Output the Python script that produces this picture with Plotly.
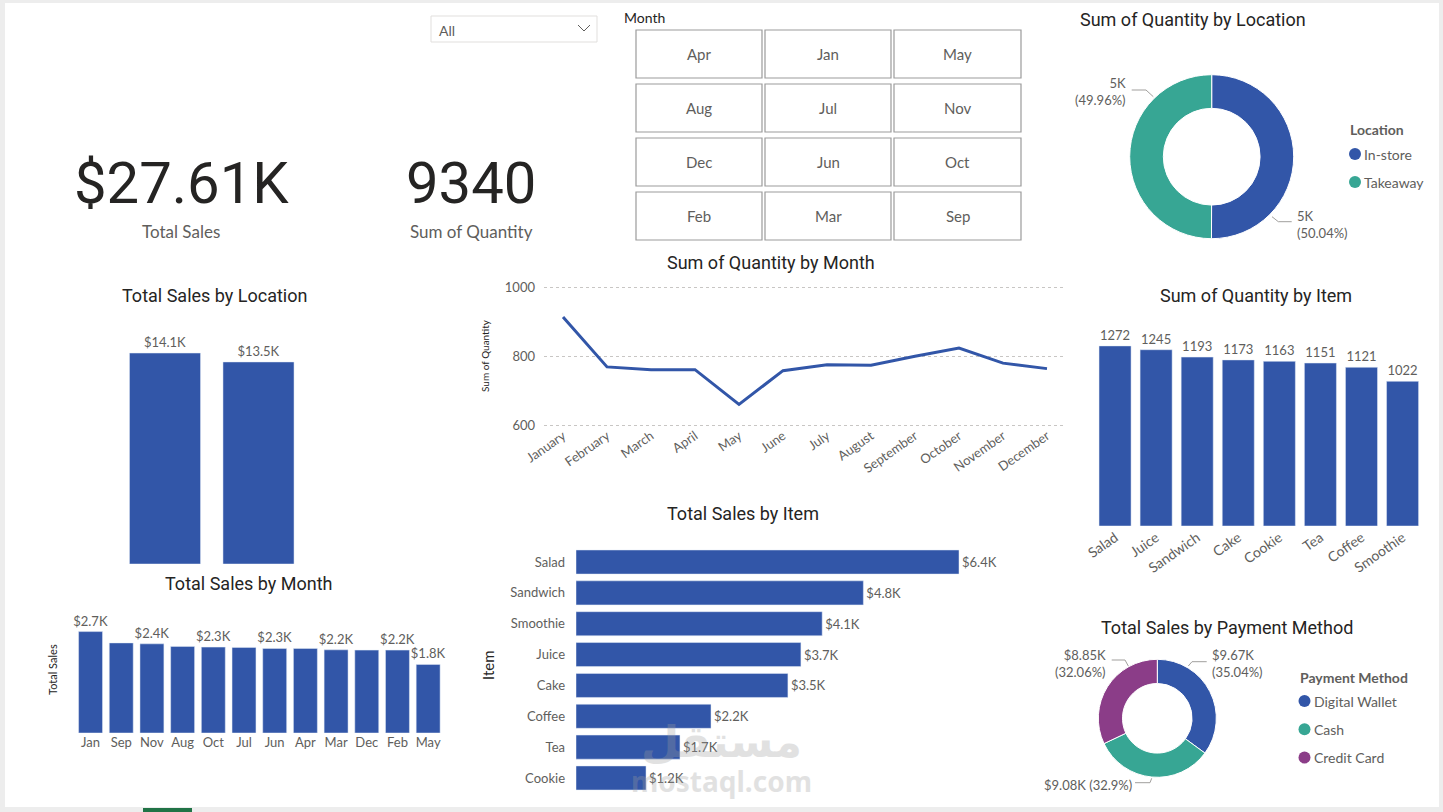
import plotly.graph_objects as go

W, H = 1443, 812

# ---------------- data ----------------
loc_names = ["In-store", "Takeaway"]
loc_sales = [14100, 13505.5]
loc_qty = [4674, 4666]

month_sales_cats = ["Jan", "Sep", "Nov", "Aug", "Oct", "Jul", "Jun", "Apr", "Mar", "Dec", "Feb", "May"]
month_sales = [2730, 2425, 2400, 2331, 2312, 2304, 2277, 2277, 2239, 2231, 2231, 1847]

month_full = ["January", "February", "March", "April", "May", "June", "July",
              "August", "September", "October", "November", "December"]
month_qty = [914, 769, 761, 761, 660, 758, 775, 774, 800, 824, 780, 764]

item_sales_cats = ["Salad", "Sandwich", "Smoothie", "Juice", "Cake", "Coffee", "Tea", "Cookie"]
item_sales = [6360, 4772, 4088, 3735, 3519, 2242, 1726.5, 1163]

item_qty_cats = ["Salad", "Juice", "Sandwich", "Cake", "Cookie", "Tea", "Coffee", "Smoothie"]
item_qty = [1272, 1245, 1193, 1173, 1163, 1151, 1121, 1022]

pay_methods = ["Digital Wallet", "Cash", "Credit Card"]
pay_sales = [9673, 9082, 8850]

slicer_months = [["Apr", "Jan", "May"], ["Aug", "Jul", "Nov"],
                 ["Dec", "Jun", "Oct"], ["Feb", "Mar", "Sep"]]

qty_ticks = [600, 800, 1000]

# ---------------- style ----------------
BLUE = "#3256A8"
TEAL = "#37A694"
PURPLE = "#8B3D88"
DARK = "#252423"
GRAY = "#605E5C"
TITLE_FONT = "DIN, Roboto, sans-serif"
LABEL_FONT = "Segoe UI, Lato, sans-serif"


def xd(a, b):
    return [a / W, b / W]


def yd(top, bottom):
    return [1 - bottom / H, 1 - top / H]


annotations = []
shapes = []


def ann(x, y, text, size=12, color=GRAY, family=LABEL_FONT, xanchor="center",
        yanchor="middle", angle=0, align="center", opacity=1.0):
    annotations.append(dict(x=x / W, y=1 - y / H, xref="paper", yref="paper",
                            text=text, showarrow=False, xanchor=xanchor, yanchor=yanchor,
                            textangle=angle, align=align, opacity=opacity,
                            font=dict(size=size, color=color, family=family)))


def line_path(points, color="#A19F9D", width=1):
    d = "M " + " L ".join(f"{x / W},{1 - y / H}" for x, y in points)
    shapes.append(dict(type="path", path=d, xref="paper", yref="paper",
                       line=dict(color=color, width=width)))


def rect(x0, y0, x1, y1, line_color=None, fill=None, width=1, layer="below"):
    shapes.append(dict(type="rect", xref="paper", yref="paper",
                       x0=x0 / W, x1=x1 / W, y0=1 - y1 / H, y1=1 - y0 / H,
                       line=dict(color=line_color or "rgba(0,0,0,0)", width=width),
                       fillcolor=fill or "rgba(0,0,0,0)", layer=layer))


def dot(cx, cy, r, color):
    shapes.append(dict(type="circle", xref="paper", yref="paper",
                       x0=(cx - r) / W, x1=(cx + r) / W, y0=1 - (cy + r) / H, y1=1 - (cy - r) / H,
                       line=dict(width=0), fillcolor=color))


fig = go.Figure()

# page frame
rect(0, 0, W, H, fill="#EDEDED")
rect(5, 3, 1439, 807, fill="#FFFFFF")
rect(143, 808, 192, 812, fill="#217346")

# ---------------- KPI cards ----------------
total_sales = sum(item_sales)
total_qty = sum(item_qty)
ann(182, 183, f"${total_sales / 1000:.2f}K", size=58, color=DARK, family=TITLE_FONT)
ann(181, 231, "Total Sales", size=17, color=GRAY)
ann(471, 183, f"{total_qty}", size=58, color=DARK, family=TITLE_FONT)
ann(471, 231, "Sum of Quantity", size=17, color=GRAY)

# dropdown slicer
rect(431, 16, 597, 42, line_color="#E1DFDD")
ann(437, 30, "All", size=14, color=GRAY, xanchor="left")
line_path([(578, 25), (584, 31), (590, 25)], color=GRAY, width=1)

# month tile slicer
ann(622, 17, "Month", size=14, color=DARK, xanchor="left")
cols = [(636, 762), (765, 891), (894, 1021)]
rows = [(30, 78), (84, 132), (138, 186), (192, 240)]
for ri, (t, b) in enumerate(rows):
    for ci, (l, r) in enumerate(cols):
        rect(l, t, r, b, line_color="#9B9B9B", width=1.2, layer="above")
        ann((l + r) / 2, (t + b) / 2, slicer_months[ri][ci], size=15, color=GRAY)

bar_common = dict(textposition="outside", constraintext="none", cliponaxis=False,
                  hoverinfo="skip", marker_color=BLUE)

# ---------------- Total Sales by Location ----------------
ann(214, 295, "Total Sales by Location", size=18, color=DARK, family=TITLE_FONT)
fig.add_trace(go.Bar(x=loc_names, y=loc_sales, width=0.76,
                     text=[f"${v / 1000:.1f}K" for v in loc_sales],
                     textfont=dict(size=13, color=GRAY, family=LABEL_FONT),
                     xaxis="x", yaxis="y", **bar_common))

# ---------------- Total Sales by Month ----------------
ann(249, 583, "Total Sales by Month", size=18, color=DARK, family=TITLE_FONT)
ann(52, 670, "Total Sales", size=11, color=DARK, angle=-90)
month_labels = [f"${v / 1000:.1f}K" if (i % 2 == 0 or i == len(month_sales) - 1) else ""
                for i, v in enumerate(month_sales)]
fig.add_trace(go.Bar(x=month_sales_cats, y=month_sales, width=0.78,
                     text=month_labels,
                     textfont=dict(size=13, color=GRAY, family=LABEL_FONT),
                     xaxis="x2", yaxis="y2", **bar_common))

# ---------------- Sum of Quantity by Month ----------------
ann(771, 262, "Sum of Quantity by Month", size=18, color=DARK, family=TITLE_FONT)
ann(485, 356, "Sum of Quantity", size=10, color=DARK, angle=-90)
fig.add_trace(go.Scatter(x=month_full, y=month_qty, mode="lines",
                         line=dict(color=BLUE, width=3), xaxis="x3", yaxis="y3",
                         hoverinfo="skip", cliponaxis=False))

# ---------------- Total Sales by Item ----------------
ann(743, 513, "Total Sales by Item", size=18, color=DARK, family=TITLE_FONT)
ann(488, 665, "Item", size=15, color=DARK, angle=-90)
fig.add_trace(go.Bar(y=item_sales_cats, x=item_sales, orientation="h", width=0.78,
                     text=[f"${v / 1000:.1f}K" for v in item_sales],
                     textfont=dict(size=13, color=GRAY, family=LABEL_FONT),
                     xaxis="x4", yaxis="y4", **bar_common))

# ---------------- Sum of Quantity by Item ----------------
ann(1256, 295, "Sum of Quantity by Item", size=18, color=DARK, family=TITLE_FONT)
fig.add_trace(go.Bar(x=item_qty_cats, y=item_qty, width=0.78,
                     text=[str(v) for v in item_qty],
                     textfont=dict(size=13, color=GRAY, family=LABEL_FONT),
                     xaxis="x5", yaxis="y5", **bar_common))

# ---------------- Sum of Quantity by Location (donut) ----------------
ann(1193, 20, "Sum of Quantity by Location", size=18, color=DARK, family=TITLE_FONT)
cx, cy, r = 1211.7, 156.7, 82
fig.add_trace(go.Pie(labels=loc_names, values=loc_qty, hole=0.59, sort=False,
                     direction="clockwise", rotation=0, textinfo="none", automargin=False,
                     marker=dict(colors=[BLUE, TEAL], line=dict(color="white", width=1)),
                     domain=dict(x=xd(cx - r, cx + r), y=yd(cy - r, cy + r)),
                     showlegend=False, hoverinfo="skip"))
qt = sum(loc_qty)
loc_txt = [f"{v / 1000:.0f}K<br>({v / qt * 100:.2f}%)" for v in loc_qty]
ann(1295, 224, loc_txt[0], size=13, color=GRAY, xanchor="left", align="left")
ann(1128, 92, loc_txt[1], size=13, color=GRAY, xanchor="right", align="right")
line_path([(1272, 216.7), (1278.3, 221.7), (1291.7, 221.7)])
line_path([(1131.7, 90), (1146, 90), (1153.3, 96.7)])
ann(1348, 130, "<b>Location</b>", size=14, color=GRAY, xanchor="left")
for i, (nm, col) in enumerate(zip(loc_names, [BLUE, TEAL])):
    yy = 154 + i * 28
    dot(1355, yy, 6, col)
    ann(1362, yy, nm, size=14, color=GRAY, xanchor="left")

# ---------------- Total Sales by Payment Method (donut) ----------------
ann(1227, 627, "Total Sales by Payment Method", size=18, color=DARK, family=TITLE_FONT)
pcx, pcy, pr = 1157.3, 718.3, 59
fig.add_trace(go.Pie(labels=pay_methods, values=pay_sales, hole=0.59, sort=False,
                     direction="clockwise", rotation=0, textinfo="none", automargin=False,
                     marker=dict(colors=[BLUE, TEAL, PURPLE], line=dict(color="white", width=1)),
                     domain=dict(x=xd(pcx - pr, pcx + pr), y=yd(pcy - pr, pcy + pr)),
                     showlegend=False, hoverinfo="skip"))
pt = sum(pay_sales)


def pct(v):
    return (f"{v / pt * 100:.2f}").rstrip("0").rstrip(".")


ann(1210, 663, f"${pay_sales[0] / 1000:.2f}K<br>({pct(pay_sales[0])}%)", size=13,
    color=GRAY, xanchor="left", align="left")
ann(1088, 785, f"${pay_sales[1] / 1000:.2f}K ({pct(pay_sales[1])}%)", size=13,
    color=GRAY)
ann(1108, 663, f"${pay_sales[2] / 1000:.2f}K<br>({pct(pay_sales[2])}%)", size=13,
    color=GRAY, xanchor="right", align="right")
line_path([(1188.3, 666), (1192, 661.7), (1206.7, 661.7)])
line_path([(1111.7, 660), (1125, 660), (1128.3, 666)])
line_path([(1135, 782.7), (1150, 782.7), (1151.7, 778.3)])
ann(1298, 677, "<b>Payment Method</b>", size=14, color=GRAY, xanchor="left")
for i, (nm, col) in enumerate(zip(pay_methods, [BLUE, TEAL, PURPLE])):
    yy = 701 + i * 28.3
    dot(1304.5, yy, 6, col)
    ann(1312, yy, nm, size=14, color=GRAY, xanchor="left")

# watermark
ann(722, 740, "<b>مستقل</b>", size=44, color="#9E9E9E", opacity=0.3,
    family="Noto Sans, DejaVu Sans, sans-serif")
ann(722, 781, "<b>mostaql.com</b>", size=28, color="#9E9E9E", opacity=0.3,
    family="Noto Sans, sans-serif")

# ---------------- axes ----------------
tickfont = dict(size=13, color=GRAY, family=LABEL_FONT)
hidden = dict(visible=False, fixedrange=True, automargin=False)
base = dict(showgrid=False, zeroline=False, showline=False, ticks="", automargin=False,
            fixedrange=True)

# quantity axis: 600 -> y 425, 1000 -> y 287.5 (pixels), padded so edge gridlines render
q_lo, q_hi = 585, 1015
px_per_unit = (425 - 287.5) / (1000 - 600)
q_top = 287.5 - (q_hi - 1000) * px_per_unit
q_bot = 425 + (600 - q_lo) * px_per_unit

layout_axes = dict(
    xaxis=dict(domain=xd(118.25, 305.25), range=[-0.5, 1.5], anchor="y", **hidden),
    yaxis=dict(domain=yd(330, 564), range=[0, 15640], anchor="x", **hidden),
    xaxis2=dict(domain=xd(75.2, 443.5), range=[-0.5, 11.5],
                tickfont=dict(size=13, color=GRAY, family=LABEL_FONT), anchor="y2", **base),
    yaxis2=dict(domain=yd(600, 733), range=[0, 3580], anchor="x2", **hidden),
    xaxis3=dict(domain=xd(544, 1066), range=[-0.432, 11.432], tickangle=-35, tickfont=tickfont,
                anchor="free", position=1 - 425 / H, **base),
    yaxis3=dict(domain=yd(q_top, q_bot), range=[q_lo, q_hi], tickvals=qty_ticks,
                tickfont=tickfont, anchor="x3", ticklabelstandoff=8,
                showgrid=True, gridcolor="#C8C6C4", griddash="dot", gridwidth=1,
                zeroline=False, showline=False, ticks="", automargin=False, fixedrange=True),
    xaxis4=dict(domain=xd(576, 1040), range=[0, 7705], anchor="y4", **hidden),
    yaxis4=dict(domain=yd(546.6, 793.4), range=[7.5, -0.5], tickfont=tickfont, anchor="x4",
                ticklabelstandoff=10, **base),
    xaxis5=dict(domain=xd(1094.5, 1423.1), range=[-0.5, 7.5], tickangle=-35,
                tickfont=dict(size=14, color=GRAY, family=LABEL_FONT), anchor="y5", **base),
    yaxis5=dict(domain=yd(320, 526), range=[0, 1455], anchor="x5", **hidden),
)

fig.update_layout(
    width=W, height=H, margin=dict(l=0, r=0, t=0, b=0, autoexpand=False),
    paper_bgcolor="white", plot_bgcolor="rgba(0,0,0,0)",
    showlegend=False, annotations=annotations, shapes=shapes,
    font=dict(family=LABEL_FONT, color=GRAY),
    **layout_axes,
)

fig.write_html("out.html")
